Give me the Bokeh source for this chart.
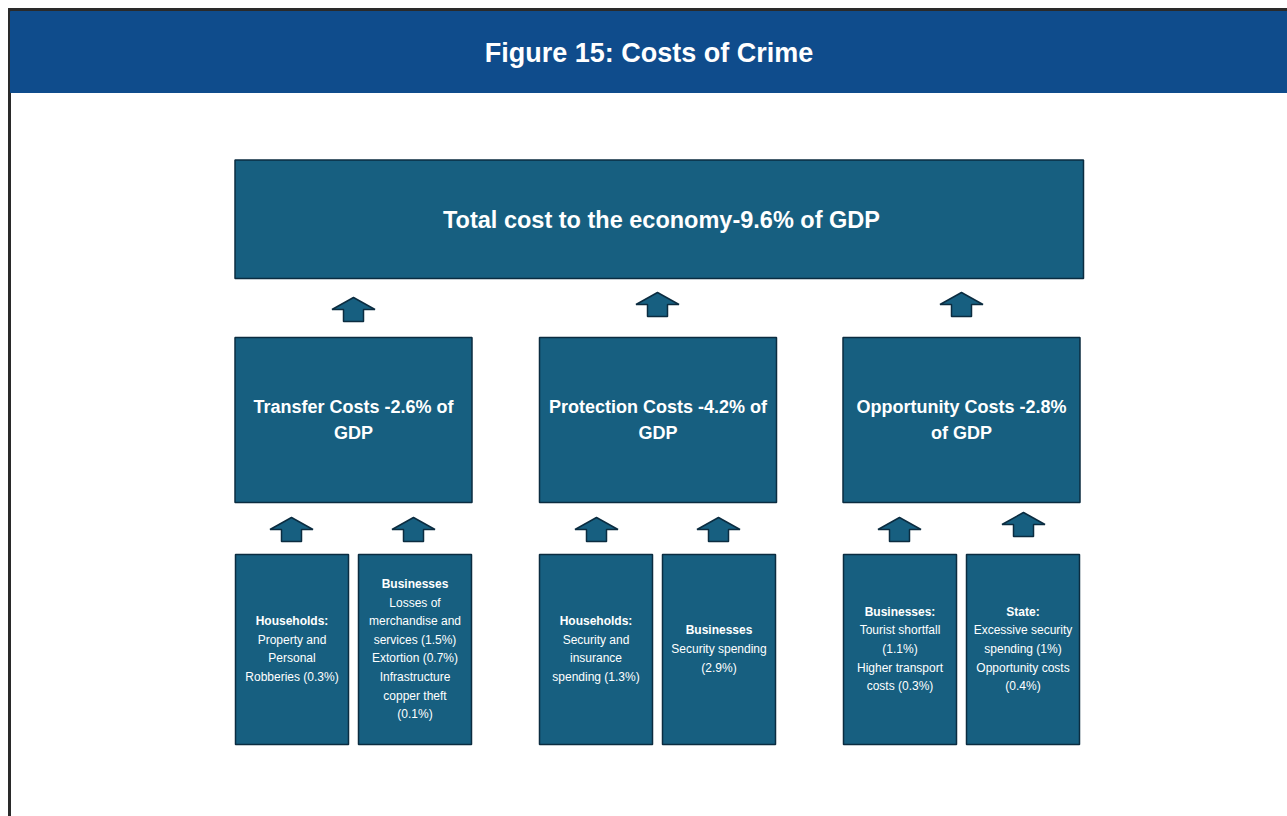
from bokeh.plotting import figure
from bokeh.models import Range1d
from bokeh.core.properties import value
from bokeh.embed import file_html
from bokeh.resources import INLINE

# ---------------- data ----------------
title = "Figure 15: Costs of Crime"
top_label = "Total cost to the economy-9.6% of GDP"
mid_labels = [
    ["Transfer Costs -2.6% of", "GDP"],
    ["Protection Costs -4.2% of", "GDP"],
    ["Opportunity Costs -2.8%", "of GDP"],
]
bottom_titles = ["Households:", "Businesses", "Households:", "Businesses", "Businesses:", "State:"]
bottom_lines = [
    ["Property and", "Personal", "Robberies (0.3%)"],
    ["Losses of", "merchandise and", "services (1.5%)", "Extortion (0.7%)", "Infrastructure", "copper theft", "(0.1%)"],
    ["Security and", "insurance", "spending (1.3%)"],
    ["Security spending", "(2.9%)"],
    ["Tourist shortfall", "(1.1%)", "Higher transport", "costs (0.3%)"],
    ["Excessive security", "spending (1%)", "Opportunity costs", "(0.4%)"],
]

# ---------------- style / layout ----------------
BOX_FILL = "#175f80"
BOX_LINE = "#0b2c40"
HEADER = "#0f4c8c"
FONT = "Liberation Sans"

W, H = 1287, 816
p = figure(width=W, height=H, x_range=Range1d(0, W), y_range=Range1d(H, 0),
           output_backend="svg", toolbar_location=None, min_border=0)
p.axis.visible = False
p.xgrid.visible = False
p.ygrid.visible = False
p.outline_line_color = None
p.background_fill_color = "white"

# frame lines & header
p.quad(left=[8, 8], right=[1287, 10], top=[8, 8], bottom=[11, 816], color="#2a2a2a")
p.quad(left=[10], right=[1287], top=[11], bottom=[92], color=HEADER)
p.text(x=[648.5], y=[52], text=[title], text_color="white", text_font=value(FONT),
       text_font_style="bold", text_font_size="27px", text_align="center", text_baseline="middle")

# top box
p.quad(left=[234.5], right=[1083], top=[159.5], bottom=[278], fill_color=BOX_FILL,
       line_color=BOX_LINE, line_width=1.5)
p.text(x=[661], y=[219], text=[top_label], text_color="white", text_font=value(FONT),
       text_font_style="bold", text_font_size="23.5px", text_align="center", text_baseline="middle")

# middle boxes
mid_left = [234.5, 539, 842.5]
mid_w = 237
for i, lab in enumerate(mid_labels):
    l = mid_left[i]
    p.quad(left=[l], right=[l + mid_w], top=[337], bottom=[502], fill_color=BOX_FILL,
           line_color=BOX_LINE, line_width=1.5)
    cx = l + mid_w / 2
    p.text(x=[cx, cx], y=[406, 432], text=lab, text_color="white", text_font=value(FONT),
           text_font_style="bold", text_font_size="18px", text_align="center", text_baseline="middle")

# bottom boxes
bot_left = [235, 358, 539, 662, 843, 966]
bot_w = 113
for i in range(6):
    l = bot_left[i]
    p.quad(left=[l], right=[l + bot_w], top=[554], bottom=[744], fill_color=BOX_FILL,
           line_color=BOX_LINE, line_width=1.5)
    cx = l + bot_w / 2
    lines = [bottom_titles[i]] + bottom_lines[i]
    n = len(lines)
    sp = 18.6
    y0 = 648.5 - (n - 1) * sp / 2
    ys = [y0 + k * sp for k in range(n)]
    p.text(x=[cx], y=[ys[0]], text=[lines[0]], text_color="white", text_font=value(FONT),
           text_font_style="bold", text_font_size="12px", text_align="center", text_baseline="middle")
    p.text(x=[cx] * (n - 1), y=ys[1:], text=lines[1:], text_color="white", text_font=value(FONT),
           text_font_size="12px", text_align="center", text_baseline="middle")

# arrows
def arrow(cx, ty):
    xs = [cx, cx + 21.5, cx + 10, cx + 10, cx - 10, cx - 10, cx - 21.5]
    ys = [ty, ty + 12, ty + 12, ty + 24, ty + 24, ty + 12, ty + 12]
    return xs, ys

arrow_pos = [(353, 297), (657, 292), (961, 292),
             (291, 517), (413, 517), (596, 517), (718, 517), (899, 517), (1023, 512)]
axs, ays = [], []
for cx, ty in arrow_pos:
    a, b = arrow(cx, ty)
    axs.append(a)
    ays.append(b)
p.patches(xs=axs, ys=ays, fill_color=BOX_FILL, line_color=BOX_LINE, line_width=1.5)

open("out.html", "w").write(file_html(p, INLINE))
